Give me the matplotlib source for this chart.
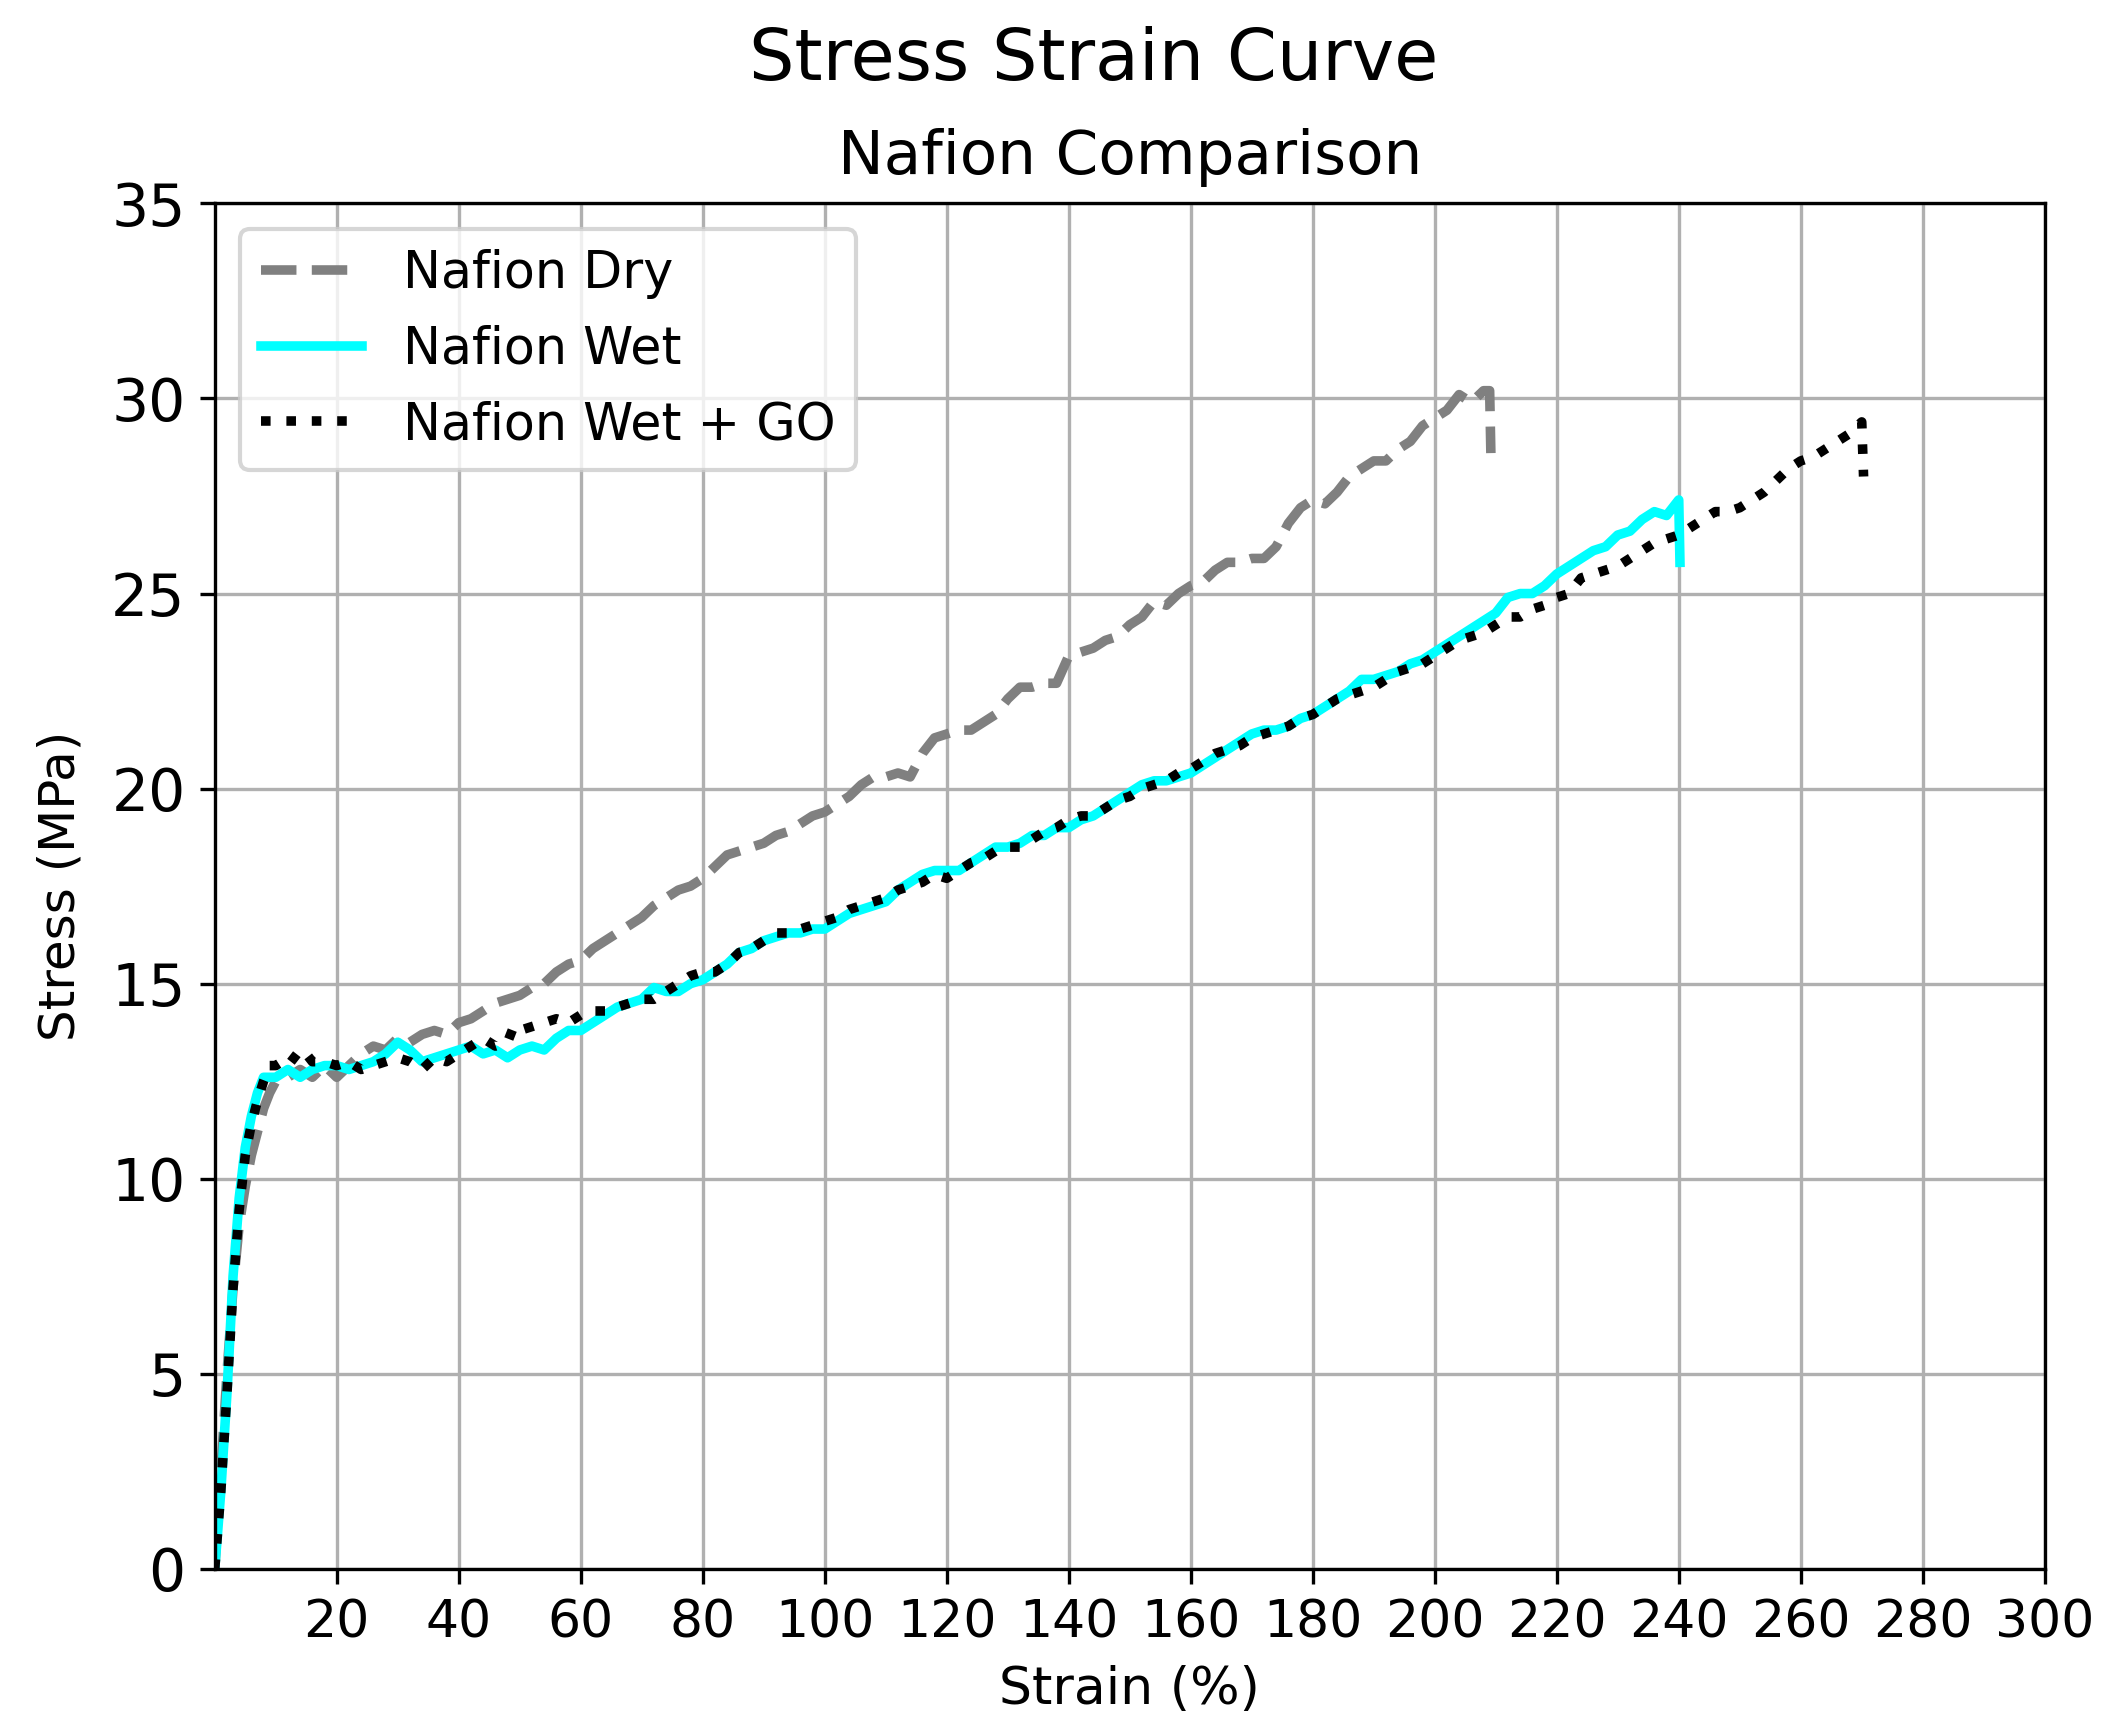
import matplotlib
matplotlib.use('Agg')
import matplotlib.pyplot as plt

# Nafion dry
dry_x = [0, 1, 2, 3, 4, 5, 6, 7, 8, 9, 10, 12, 14, 16, 18, 20, 22, 24, 26, 28, 30, 32, 34, 36, 38,
         40, 42, 44, 46, 48, 50, 52, 54, 56, 58, 60, 62, 64, 66, 68, 70, 72, 74, 76, 78, 80, 82, 84,
         86, 88, 90, 92, 94, 96, 98, 100, 102, 104, 106, 108, 110, 112, 114, 116, 118, 120, 122, 124,
         126, 128, 130, 132, 134, 136, 138, 140, 142, 144, 146, 148, 150, 152, 154, 156, 158, 160, 162,
         164, 166, 168, 170, 172, 174, 176, 178, 180, 182, 184, 186, 188, 190, 192, 194, 196, 198, 200,
         202, 204, 206, 208, 209, 209.2]
dry_y = [0, 2.5, 5.0, 7.2, 8.8, 9.8, 10.6, 11.2, 11.8, 12.2, 12.5, 12.6, 12.8, 12.6, 12.9, 12.6, 12.9,
         13.2, 13.4, 13.3, 13.6, 13.5, 13.7, 13.8, 13.7, 14.0, 14.1, 14.3, 14.5, 14.6, 14.7, 14.9, 15.0,
         15.3, 15.5, 15.6, 15.9, 16.1, 16.3, 16.5, 16.7, 17.0, 17.2, 17.4, 17.5, 17.7, 18.0, 18.3, 18.4,
         18.5, 18.6, 18.8, 18.9, 19.1, 19.3, 19.4, 19.6, 19.8, 20.1, 20.3, 20.3, 20.4, 20.3, 20.9, 21.3,
         21.4, 21.5, 21.5, 21.7, 21.9, 22.3, 22.6, 22.6, 22.7, 22.7, 23.4, 23.5, 23.6, 23.8, 23.9, 24.2,
         24.4, 24.8, 24.7, 25.0, 25.2, 25.3, 25.6, 25.8, 25.8, 25.9, 25.9, 26.2, 26.8, 27.2, 27.4, 27.3,
         27.6, 28.0, 28.2, 28.4, 28.4, 28.7, 28.9, 29.3, 29.5, 29.7, 30.1, 29.9, 30.2, 30.2, 28.6]

# Nafion wet
wet_x = [0, 1, 2, 3, 4, 5, 6, 7, 8, 10, 12, 14, 16, 18, 20, 22, 24, 26, 28, 30, 32, 34, 36, 38, 40,
         42, 44, 46, 48, 50, 52, 54, 56, 58, 60, 62, 64, 66, 68, 70, 72, 74, 76, 78, 80, 82, 84, 86,
         88, 90, 92, 94, 96, 98, 100, 102, 104, 106, 108, 110, 112, 114, 116, 118, 120, 122, 124, 126,
         128, 130, 132, 134, 136, 138, 140, 142, 144, 146, 148, 150, 152, 154, 156, 158, 160, 162, 164,
         166, 168, 170, 172, 174, 176, 178, 180, 182, 184, 186, 188, 190, 192, 194, 196, 198, 200, 202,
         204, 206, 208, 210, 212, 214, 216, 218, 220, 222, 224, 226, 228, 230, 232, 234, 236, 238, 240,
         240.2]
wet_y = [0, 2.0, 4.5, 7.5, 9.5, 10.8, 11.6, 12.2, 12.6, 12.6, 12.8, 12.6, 12.8, 12.9, 12.9, 12.8,
         12.9, 13.0, 13.2, 13.5, 13.3, 13.0, 13.1, 13.2, 13.3, 13.4, 13.2, 13.3, 13.1, 13.3, 13.4, 13.3,
         13.6, 13.8, 13.8, 14.0, 14.2, 14.4, 14.5, 14.6, 14.9, 14.8, 14.8, 15.0, 15.1, 15.3, 15.5, 15.8,
         15.9, 16.1, 16.2, 16.3, 16.3, 16.4, 16.4, 16.6, 16.8, 16.9, 17.0, 17.1, 17.4, 17.6, 17.8, 17.9,
         17.9, 17.9, 18.1, 18.3, 18.5, 18.5, 18.6, 18.8, 18.8, 19.0, 19.0, 19.2, 19.3, 19.5, 19.7, 19.9,
         20.1, 20.2, 20.2, 20.3, 20.4, 20.6, 20.8, 21.0, 21.2, 21.4, 21.5, 21.5, 21.6, 21.8, 21.9, 22.1,
         22.3, 22.5, 22.8, 22.8, 22.9, 23.0, 23.2, 23.3, 23.5, 23.7, 23.9, 24.1, 24.3, 24.5, 24.9, 25.0,
         25.0, 25.2, 25.5, 25.7, 25.9, 26.1, 26.2, 26.5, 26.6, 26.9, 27.1, 27.0, 27.4, 25.8]

# Nafion wet + GO
go_x = [0, 1, 2, 3, 4, 5, 6, 7, 8, 9, 10, 11, 12, 13, 14, 15, 16, 18, 20, 22, 24, 26, 28, 30, 32,
        34, 36, 38, 40, 42, 44, 46, 48, 49, 50, 52, 54, 56, 58, 60, 62, 64, 66, 68, 70, 72, 74, 76,
        78, 80, 82, 84, 86, 88, 90, 92, 94, 96, 98, 100, 102, 104, 106, 108, 110, 112, 114, 116, 118,
        120, 122, 124, 126, 128, 130, 132, 134, 136, 138, 140, 142, 144, 146, 148, 150, 152, 154, 156,
        158, 160, 162, 164, 166, 168, 170, 172, 174, 176, 178, 180, 182, 184, 186, 188, 190, 192, 194,
        196, 198, 200, 202, 204, 206, 208, 210, 212, 214, 216, 218, 220, 222, 224, 226, 228, 230, 232,
        234, 236, 238, 240, 242, 244, 246, 248, 250, 252, 254, 256, 258, 260, 262, 264, 266, 268, 270,
        270.3]
go_y = [0, 2.0, 4.5, 7.2, 9.2, 10.6, 11.4, 12.0, 12.5, 12.9, 12.9, 13.0, 12.9, 13.1, 13.3, 13.2,
        13.0, 13.0, 12.9, 13.0, 12.8, 12.9, 13.0, 13.1, 13.0, 12.8, 13.1, 13.0, 13.2, 13.4, 13.6, 13.4,
        13.5, 13.9, 13.8, 13.9, 14.0, 14.1, 14.0, 14.2, 14.3, 14.3, 14.4, 14.5, 14.6, 14.6, 14.8, 15.0,
        15.2, 15.3, 15.3, 15.5, 15.8, 15.9, 16.1, 16.3, 16.3, 16.4, 16.5, 16.6, 16.7, 16.9, 17.0, 17.1,
        17.2, 17.4, 17.5, 17.6, 17.8, 17.7, 17.9, 18.1, 18.2, 18.4, 18.5, 18.5, 18.7, 18.9, 19.0, 19.2,
        19.3, 19.3, 19.5, 19.7, 19.8, 20.0, 20.1, 20.2, 20.4, 20.5, 20.7, 20.9, 21.0, 21.1, 21.3, 21.4,
        21.5, 21.6, 21.8, 21.9, 22.1, 22.3, 22.4, 22.5, 22.6, 22.8, 23.0, 23.1, 23.2, 23.4, 23.6, 23.8,
        23.9, 24.0, 24.2, 24.4, 24.4, 24.6, 24.7, 24.9, 25.0, 25.4, 25.5, 25.6, 25.7, 25.9, 26.1, 26.3,
        26.4, 26.5, 26.7, 26.9, 27.1, 27.1, 27.2, 27.4, 27.6, 27.9, 28.2, 28.4, 28.5, 28.7, 28.9, 29.1,
        29.4, 28.0]

x_ticks = [20, 40, 60, 80, 100, 120, 140, 160, 180, 200, 220, 240, 260, 280, 300]
y_ticks = [0, 5, 10, 15, 20, 25, 30, 35]

fig = plt.figure(figsize=(2120 / 300, 1724 / 300), dpi=300)
ax = fig.add_axes([0.1013, 0.090, 0.8632, 0.792])

ax.plot(dry_x, dry_y, color='gray', linestyle='--', linewidth=2.3, label='Nafion Dry')
ax.plot(wet_x, wet_y, color='cyan', linestyle='-', linewidth=2.3, label='Nafion Wet')
ax.plot(go_x, go_y, color='black', linestyle=':', linewidth=2.3, label='Nafion Wet + GO')

ax.set_xlim(0, 300)
ax.set_ylim(0, 35)
ax.set_xticks(x_ticks)
ax.set_yticks(y_ticks)
ax.tick_params(axis='x', labelsize=12.5)
ax.tick_params(axis='y', labelsize=14)
ax.grid(True)

ax.set_xlabel('Strain (%)', fontsize=12.5)
ax.set_ylabel('Stress (MPa)', fontsize=12, labelpad=6.5)
ax.set_title('Nafion Comparison', fontsize=14.7, pad=7)
fig.suptitle('Stress Strain Curve', fontsize=17.2, x=0.516, y=0.985)

ax.legend(loc='upper left', fontsize=12.2)

fig.savefig('out.png', dpi=300)
